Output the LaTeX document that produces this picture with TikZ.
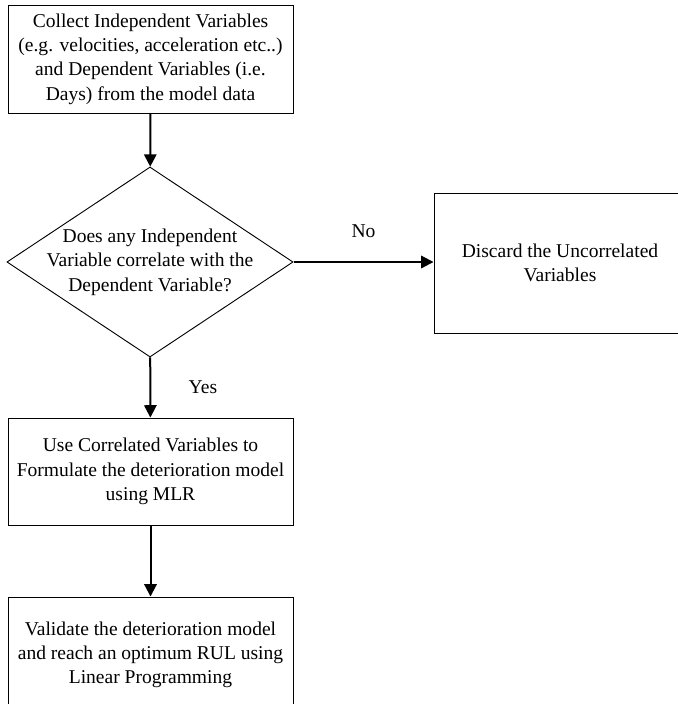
\documentclass[tikz,border=0pt]{standalone}
\usepackage{fontspec}
\setmainfont{Liberation Serif}
\usetikzlibrary{shapes.geometric,arrows.meta}
\tikzset{>={Triangle[length=8pt,width=8pt]}}
\tikzset{
  box/.style={draw,line width=0.6pt,align=center,minimum width=185.25pt,inner sep=0pt},
  decision/.style={draw,diamond,line width=0.6pt,align=center,aspect=1.5,inner sep=-12pt,
    minimum width=186pt,minimum height=123.5pt},
  flow/.style={->,line width=1.3pt}
}

\begin{document}
\begin{tikzpicture}[x=0.65pt,y=-0.65pt,font=\fontsize{12.7}{15.8}\selectfont]
  \path[use as bounding box,clip] (0,0) rectangle (678,704);
  % collect
  \node[box,minimum height=70.2pt] (collect) at (150.5,59)
    {Collect Independent Variables\\(e.g. velocities, acceleration etc..)\\and Dependent Variables (i.e.\\Days) from the model data};
  % decision
  \node[decision] (check) at (150,262)
    {Does any Independent\\Variable correlate with the\\Dependent Variable?};
  \node[box,minimum width=163.8pt,minimum height=91pt] (discard) at (560,263)
    {Discard the Uncorrelated\\Variables};
  % model
  \node[box,minimum height=69.55pt] (formulate) at (150.5,471.5)
    {Use Correlated Variables to\\Formulate the deterioration model\\using MLR};
  \node[box,minimum height=75.4pt] (validate) at (150.5,655)
    {Validate the deterioration model\\and reach an optimum RUL using\\Linear Programming};
  % arrows
  \draw[flow] (collect) -- (check);
  \draw[flow] (check.east) -- node[above=12pt] {No} (check.east -| discard.west);
  \draw[flow] (check) -- node[right=21pt] {Yes} (formulate);
  \draw[flow] (formulate) -- (validate);
\end{tikzpicture}
\end{document}
